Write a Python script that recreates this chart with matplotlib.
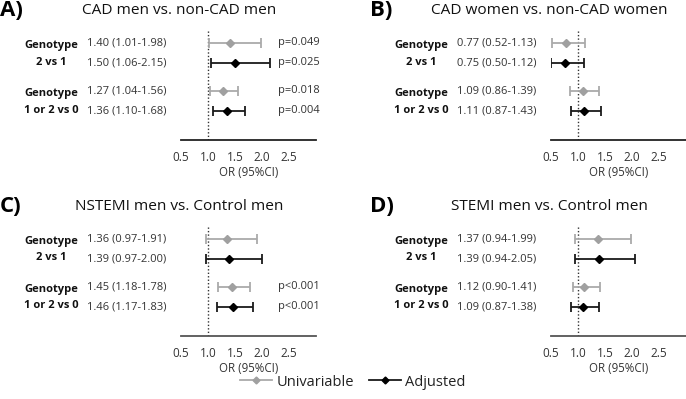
import matplotlib.pyplot as plt
from matplotlib.lines import Line2D

plt.rcParams['font.family'] = ['Open Sans', 'DejaVu Sans']

W, H = 686, 399

panel_letters = ['A)', 'B)', 'C)', 'D)']
titles = ['CAD men vs. non-CAD men', 'CAD women vs. non-CAD women',
          'NSTEMI men vs. Control men', 'STEMI men vs. Control men']
group_labels = [['Genotype', '2 vs 1'], ['Genotype', '1 or 2 vs 0']]

# per panel, rows: [univ 2v1, adj 2v1, univ 1or2v0, adj 1or2v0]
or_est = [[1.40, 1.50, 1.27, 1.36],
          [0.77, 0.75, 1.09, 1.11],
          [1.36, 1.39, 1.45, 1.46],
          [1.37, 1.39, 1.12, 1.09]]
ci_lo = [[1.01, 1.06, 1.04, 1.10],
         [0.52, 0.50, 0.86, 0.87],
         [0.97, 0.97, 1.18, 1.17],
         [0.94, 0.94, 0.90, 0.87]]
ci_hi = [[1.98, 2.15, 1.56, 1.68],
         [1.13, 1.12, 1.39, 1.43],
         [1.91, 2.00, 1.78, 1.83],
         [1.99, 2.05, 1.41, 1.38]]
p_text = [['p=0.049', 'p=0.025', 'p=0.018', 'p=0.004'],
          ['', '', '', ''],
          ['', '', 'p<0.001', 'p<0.001'],
          ['', '', '', '']]
x_ticks = [0.5, 1.0, 1.5, 2.0, 2.5]
legend_names = ['Univariable', 'Adjusted']

row_y = [0, 1, 2.4, 3.4]
kinds = [0, 1, 0, 1]
colors = ['#aaaaaa', '#1a1a1a']
marker_colors = ['#a0a0a0', '#000000']

fig = plt.figure(figsize=(W / 100, H / 100), dpi=100)


def fx(px):
    return px / W


def fy(py):
    return 1 - py / H


# pixel offsets of each panel (x, y)
offsets = [(0, 0), (370, 0), (0, 196), (370, 196)]
label_shift = [-2.5, 1.0]  # px shift (up +) for group label lines

for k in range(4):
    ox, oy = offsets[k]
    ax = fig.add_axes([fx(181 + ox), fy(140 + oy), 135 / W, 110 / H])
    ax.set_xlim(0.5, 3.0)
    ax.set_ylim(4.85, -0.65)
    for s in ['top', 'right', 'left']:
        ax.spines[s].set_visible(False)
    ax.spines['bottom'].set_color('#222222' if k < 2 else '#555555')
    ax.spines['bottom'].set_linewidth(1.3)
    ax.set_yticks([])
    ax.set_xticks(x_ticks)
    ax.set_xticklabels([f'{t:.1f}' for t in x_ticks], fontsize=8.5, color='#333333')
    ax.tick_params(axis='x', length=0, pad=8)
    ax.set_xlabel('OR (95%CI)', fontsize=8.3, color='#333333', labelpad=1)
    ax.axvline(1.0, color='#333333', linestyle=(0, (1, 1.5)), linewidth=1, zorder=1)

    for i in range(4):
        c = kinds[i]
        est = or_est[k][i]
        ax.errorbar(est, row_y[i],
                    xerr=[[est - ci_lo[k][i]], [ci_hi[k][i] - est]],
                    fmt='D', color=colors[c], ecolor=colors[c],
                    markerfacecolor=marker_colors[c], markeredgecolor=marker_colors[c],
                    markersize=4, elinewidth=1.3, capsize=3.5, capthick=1.3, zorder=3)
        ax_y = ax.transData.transform((0, row_y[i]))[1] / fig.dpi / fig.get_figheight()
        fig.text(fx(87 + ox), ax_y,
                 f'{est:.2f} ({ci_lo[k][i]:.2f}-{ci_hi[k][i]:.2f})',
                 fontsize=8, color='#333333', va='center', ha='left')
        if p_text[k][i]:
            fig.text(fx(320 + ox), ax_y, p_text[k][i], fontsize=8,
                     color='#333333', va='center', ha='right')

    for g in range(2):
        for j in range(2):
            yy = ax.transData.transform((0, row_y[2 * g + j]))[1] / fig.dpi / fig.get_figheight()
            fig.text(fx(51 + ox), yy + label_shift[j] / H, group_labels[g][j], fontsize=8,
                     fontweight='bold', color='#111111', ha='center', va='center')

    fig.text(fx(179 + ox), fy(11 + oy), titles[k], fontsize=11.1,
             color='#111111', ha='center', va='center')
    fig.text(fx(0 + ox), fy(11 + oy), panel_letters[k], fontsize=16,
             fontweight='bold', color='#000000', ha='left', va='center')

handles = [Line2D([0], [0], color=colors[c], marker='D', markersize=3.5,
                  markerfacecolor=marker_colors[c], markeredgecolor=marker_colors[c],
                  linewidth=1.3) for c in range(2)]
fig.legend(handles, legend_names, loc='center', bbox_to_anchor=(fx(353), fy(382)),
           ncol=2, frameon=False, fontsize=10.5, handlelength=2.2,
           columnspacing=1.0, handletextpad=0.3, labelcolor='#222222')

fig.savefig('out.png', dpi=100)
